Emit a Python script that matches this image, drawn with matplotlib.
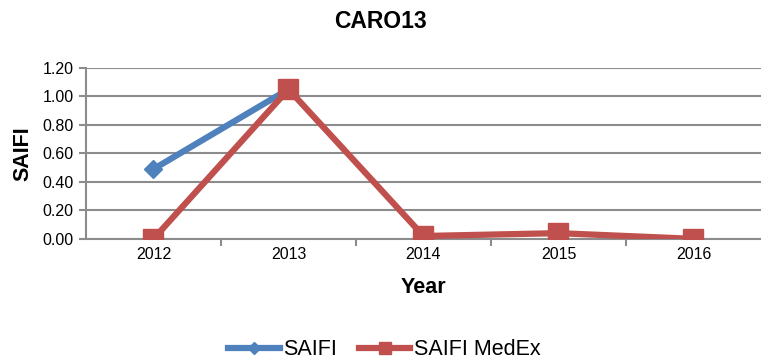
import matplotlib.pyplot as plt
from matplotlib.lines import Line2D
from matplotlib.ticker import MultipleLocator, FixedLocator

plt.rcParams['font.family'] = ['Liberation Sans', 'DejaVu Sans']

# yearly values
years = ['2012', '2013', '2014', '2015', '2016']
saifi = [0.49, 1.05]
saifi_medex = [0.00, 1.05, 0.02, 0.04, 0.00]

blue = '#4F81BD'
red = '#C0504D'
grid_col = '#8C8C8C'

fig = plt.figure(figsize=(7.61, 3.63), dpi=100)
ax = fig.add_axes([0.113, 0.342, 0.887, 0.471])

x = list(range(len(years)))
ax.plot(x[:len(saifi)], saifi, color=blue, lw=4.5, marker='D', ms=9,
        label='SAIFI', zorder=3)
ax.plot(x, saifi_medex, color=red, lw=4.5, marker='s', ms=15,
        label='SAIFI MedEx', zorder=4)

ax.set_xlim(-0.5, len(years) - 0.5)
ax.set_ylim(0, 1.2)
ax.yaxis.set_major_locator(MultipleLocator(0.2))
ax.yaxis.set_major_formatter(lambda v, p: f'{v:.2f}')
ax.set_xticks(x)
ax.set_xticklabels(years)
ax.xaxis.set_minor_locator(FixedLocator([i + 0.5 for i in x[:-1]]))

ax.grid(axis='y', color=grid_col, lw=1.5)
ax.set_axisbelow(True)
for s in ['top', 'right']:
    ax.spines[s].set_visible(False)
for s in ['left', 'bottom']:
    ax.spines[s].set_color(grid_col)
    ax.spines[s].set_linewidth(1.5)
ax.tick_params(axis='y', length=5, width=1.5, color=grid_col, labelsize=11.5, pad=4)
ax.tick_params(axis='x', which='major', length=0, labelsize=11.5, pad=6)
ax.tick_params(axis='x', which='minor', length=5, width=1.5, color=grid_col)

fig.text(0.5, 0.94, 'CARO13', ha='center', va='center', fontsize=16.5,
         fontweight='bold')
ax.set_ylabel('SAIFI', fontsize=15.5, fontweight='bold', labelpad=6)
ax.set_xlabel('Year', fontsize=15.5, fontweight='bold', labelpad=11)

# smaller markers in the legend keys
handles = [
    Line2D([], [], color=blue, lw=4.5, marker='D', ms=6),
    Line2D([], [], color=red, lw=4.5, marker='s', ms=9),
]
fig.legend(handles, ['SAIFI', 'SAIFI MedEx'], loc='lower center',
           bbox_to_anchor=(0.505, 0.008), ncol=2, frameon=False, fontsize=15.5,
           handlelength=2.4, columnspacing=1.0, handletextpad=0.15,
           borderpad=0.0, borderaxespad=0.0)

fig.savefig('out.png', dpi=100)
